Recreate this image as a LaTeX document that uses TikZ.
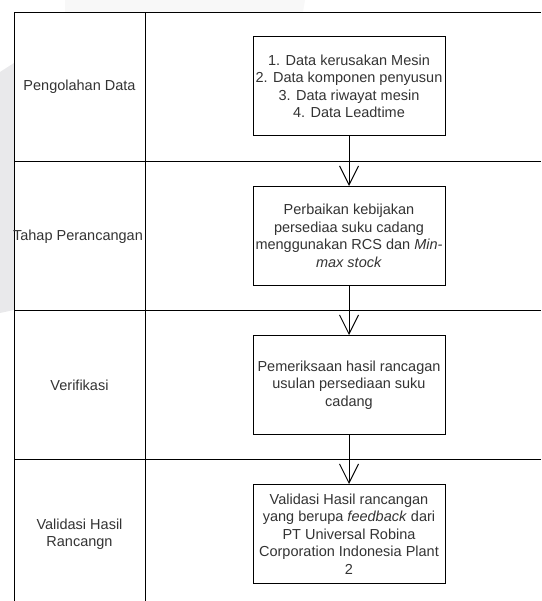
\documentclass[tikz,border=0pt]{standalone}
\usepackage{fontspec}
\setmainfont{Liberation Sans}
\usetikzlibrary{arrows.meta}
\definecolor{txt}{HTML}{333333}
\definecolor{wm}{HTML}{E9E9EB}
\definecolor{wmtop}{HTML}{F8F8F8}
\tikzset{
  lane/.style={line width=1pt, draw=black},
  procbox/.style={draw=black, line width=1pt, minimum width=192pt, minimum height=99pt,
    align=center, text=txt, inner sep=2pt, font=\fontsize{14.5pt}{17.5pt}\selectfont},
  lanelabel/.style={align=center, text=txt, inner sep=0pt, font=\fontsize{14.5pt}{17.5pt}\selectfont},
  flow/.style={line width=1pt, draw=black, -{Straight Barb[length=19pt,width=19pt,line width=1pt]}}
}
\begin{document}
\begin{tikzpicture}[x=1pt,y=-1pt]
\useasboundingbox (0,0) rectangle (541,601);
% faint watermark
\fill[wm] (0,72) -- (14,63) -- (14,310) -- (0,313) -- cycle;
\fill[wmtop] (65,0) -- (305,0) -- (303,12) -- (65,12) -- cycle;
% swimlane grid
\draw[lane] (14,601) -- (14,13) -- (541,13);
\draw[lane] (145,13) -- (145,601);
\draw[lane] (14,161.5) -- (541,161.5);
\draw[lane] (14,310.5) -- (541,310.5);
\draw[lane] (14,459.5) -- (541,459.5);
% lane labels
\node[lanelabel] (l1) at (79.5,87) {Pengolahan Data};
\node[lanelabel] (l2) at (78,237) {Tahap Perancangan};
\node[lanelabel] (l3) at (79.5,385) {Verifikasi};
\node[lanelabel] (l4) at (79.5,534) {Validasi Hasil\\Rancangn};
% process boxes
\node[procbox] (b1) at (349,86.5) {1. Data kerusakan Mesin\\2. Data komponen penyusun\\3. Data riwayat mesin\\4. Data Leadtime};
\node[procbox] (b2) at (349,236) {Perbaikan kebijakan\\persediaa suku cadang\\menggunakan RCS dan \textit{Min-}\\\textit{max stock}};
\node[procbox] (b3) at (349,385) {Pemeriksaan hasil rancagan\\usulan persediaan suku\\cadang};
\node[procbox] (b4) at (349,534) {Validasi Hasil rancangan\\yang berupa \textit{feedback} dari\\PT Universal Robina\\Corporation Indonesia Plant\\2};
% connectors
\draw[flow] (b1) -- (b2);
\draw[flow] (b2) -- (b3);
\draw[flow] (b3) -- (b4);
\end{tikzpicture}
\end{document}
